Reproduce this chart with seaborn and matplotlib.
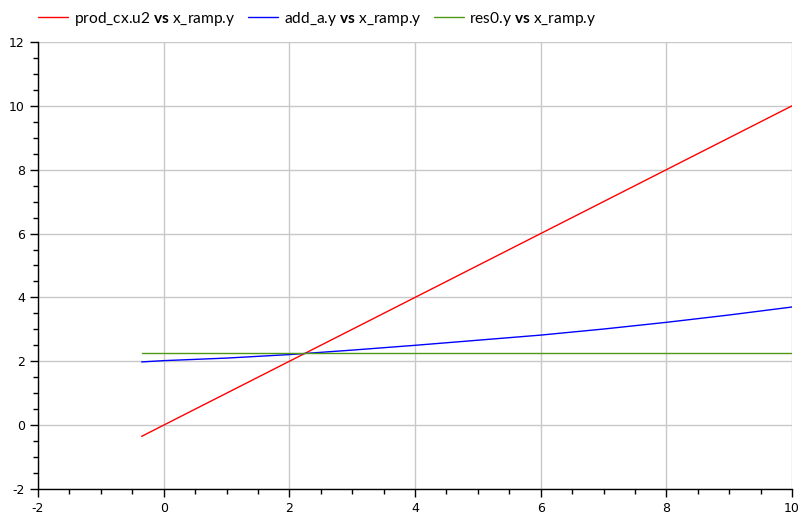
import numpy as np
import pandas as pd
import seaborn as sns
import matplotlib
matplotlib.use("Agg")
import matplotlib.pyplot as plt
from matplotlib.ticker import MultipleLocator

# --- data ---
x_ramp = [-0.35, 0, 1, 2, 3, 4, 5, 6, 7, 8, 9, 10]
prod_cx_u2 = [-0.35, 0, 1, 2, 3, 4, 5, 6, 7, 8, 9, 10]
add_a_y = [1.98, 2.02, 2.10, 2.21, 2.35, 2.50, 2.66, 2.82, 3.01, 3.22, 3.45, 3.70]
res0_y = [2.26] * len(x_ramp)

labels = [r"prod_cx.u2 $\mathbf{vs}$ x_ramp.y",
          r"add_a.y $\mathbf{vs}$ x_ramp.y",
          r"res0.y $\mathbf{vs}$ x_ramp.y"]
colors = ["#ff0000", "#0000ff", "#4f9a14"]

df = pd.concat([
    pd.DataFrame({"x": x_ramp, "y": prod_cx_u2, "series": labels[0]}),
    pd.DataFrame({"x": x_ramp, "y": add_a_y, "series": labels[1]}),
    pd.DataFrame({"x": x_ramp, "y": res0_y, "series": labels[2]}),
])

sns.set_style("white")
plt.rcParams["font.family"] = ["DejaVu Sans"]
plt.rcParams["text.color"] = "black"
plt.rcParams["axes.unicode_minus"] = False
plt.rcParams["mathtext.fontset"] = "custom"
plt.rcParams["mathtext.rm"] = "Lato"
plt.rcParams["mathtext.bf"] = "Lato:bold"

fig = plt.figure(figsize=(8.06, 5.21), dpi=100)
ax = fig.add_axes([38 / 806, 1 - 489 / 521, (792 - 38) / 806, (489 - 42) / 521])

sns.lineplot(data=df, x="x", y="y", hue="series", palette=colors,
             hue_order=labels, linewidth=1.0, ax=ax, sort=False, legend=True)

ax.set_xlim(-2, 10)
ax.set_ylim(-2, 12)
ax.xaxis.set_major_locator(MultipleLocator(2))
ax.xaxis.set_minor_locator(MultipleLocator(0.5))
ax.yaxis.set_major_locator(MultipleLocator(2))
ax.yaxis.set_minor_locator(MultipleLocator(0.5))
ax.grid(True, which="major", color="#c8c8c8", linewidth=1.0)
ax.set_axisbelow(True)
for s in ["top", "right"]:
    ax.spines[s].set_visible(False)
for s in ["left", "bottom"]:
    ax.spines[s].set_color("black")
    ax.spines[s].set_linewidth(1.0)
ax.tick_params(which="major", direction="out", length=6, width=1, color="black",
               labelsize=9, labelcolor="black", left=True, bottom=True)
ax.tick_params(which="minor", direction="out", length=3.5, width=1, color="black",
               left=True, bottom=True)
ax.set_xlabel("")
ax.set_ylabel("")

handles, lbls = ax.get_legend_handles_labels()
ax.get_legend().remove()
fig.legend(handles, lbls, loc="upper left", bbox_to_anchor=(0.03, 1.008), ncol=3,
           frameon=False, prop={"family": "Lato", "size": 11.2},
           handlelength=1.92, handletextpad=0.38, columnspacing=0.8,
           labelcolor="black")

fig.savefig("out.png", dpi=100)
